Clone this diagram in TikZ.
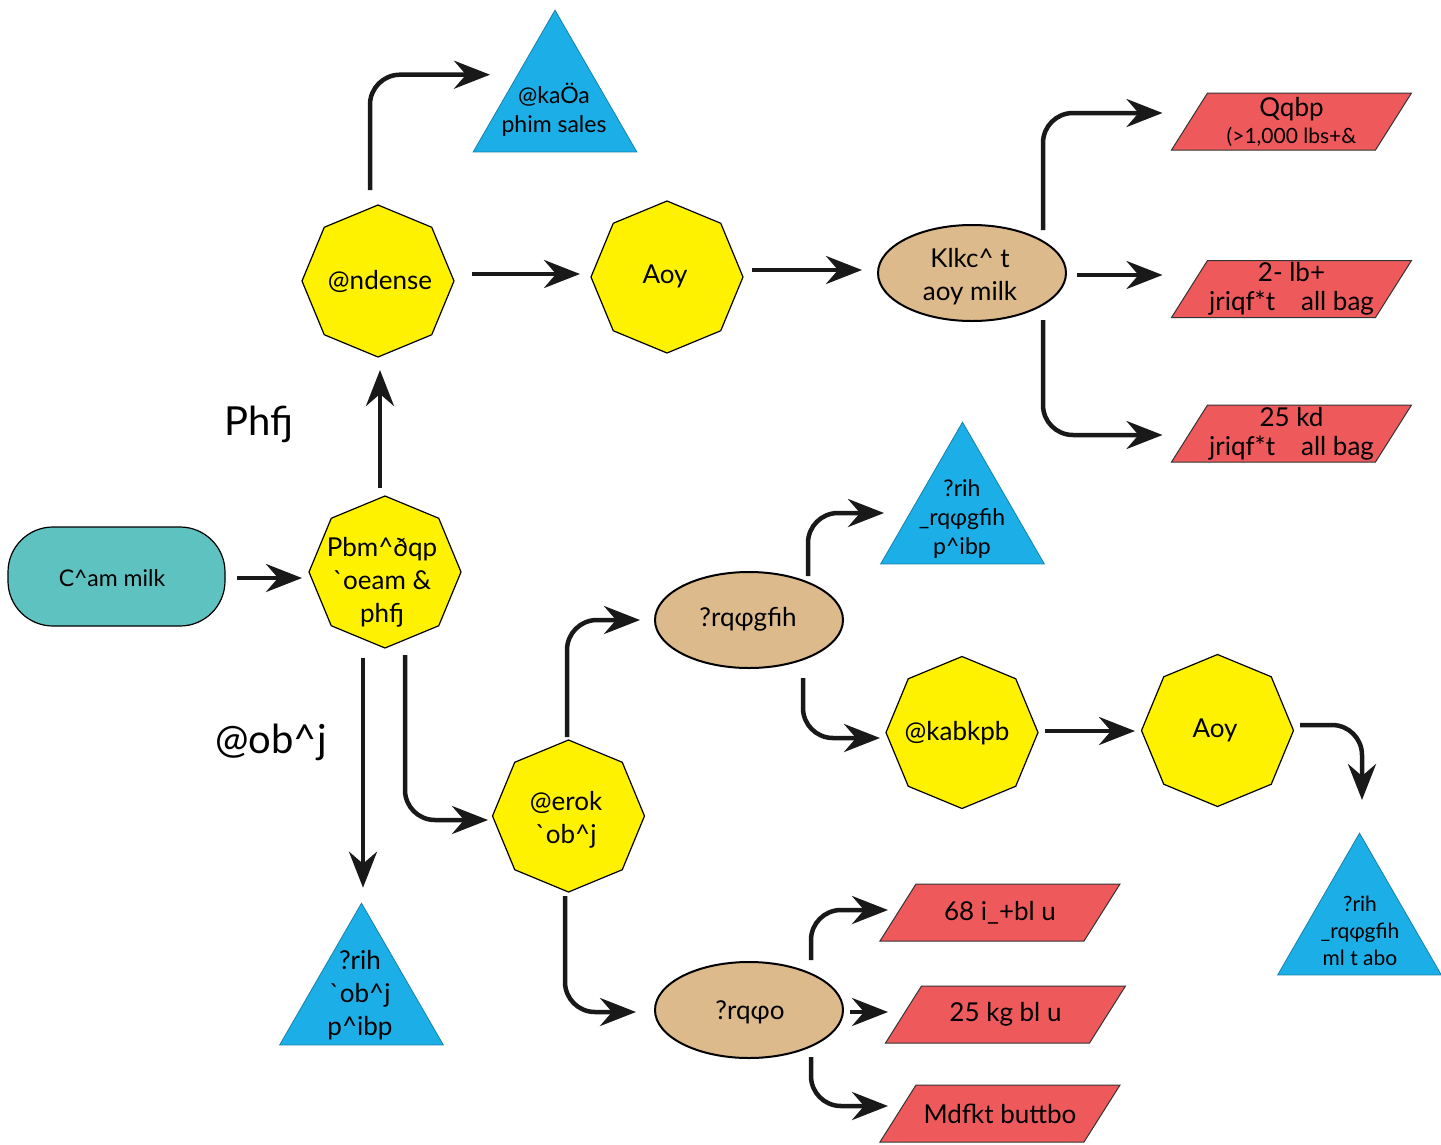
\documentclass[tikz,border=0pt]{standalone}
\usepackage{fontspec}
\setmainfont{Lato}
\usetikzlibrary{shapes.geometric,arrows.meta,calc}
\definecolor{octyellow}{HTML}{FFF200}
\definecolor{triblue}{HTML}{1CAEE6}
\definecolor{ovaltan}{HTML}{DCBA8C}
\definecolor{parared}{HTML}{EE5A5C}
\definecolor{tealbox}{HTML}{5EC2C0}
\newcommand\fsA{\fontsize{26}{33}\selectfont}
\newcommand\fsB{\fontsize{23}{29}\selectfont}
\newcommand\fsC{\fontsize{21}{27}\selectfont}
\newcommand\fsBig{\fontsize{40}{46}\selectfont}
\newcommand\mypara[4]{%
  \draw[parashape] (#2,#3) ++(-84,-28.5) -- ++(204,0) -- ++(-36,57) -- ++(-204,0) -- cycle;
  \node[txt] (#1) at (#2,#3) {#4};}
\tikzset{
  oct/.style={regular polygon, regular polygon sides=8, shape border rotate=22.5,
    minimum size=152pt, inner sep=0pt, draw=black, line width=1.2pt, fill=octyellow},
  tri/.style={regular polygon, regular polygon sides=3, minimum size=189pt,
    inner sep=0pt, draw=triblue!75!black, line width=0.8pt, fill=triblue},
  oval/.style={ellipse, draw=black, line width=2pt, fill=ovaltan,
    minimum width=188pt, minimum height=96pt, inner sep=0pt},
  roundbox/.style={draw=black, line width=1.2pt, fill=tealbox, rounded corners=45pt,
    minimum width=217pt, minimum height=99pt, inner sep=0pt},
  parashape/.style={draw=black!80, line width=1pt, fill=parared},
  txt/.style={align=center, inner sep=0pt, font=\fsA, text=black},
  arr/.style={-{Stealth[length=36pt,width=28pt,inset=12pt]}, line width=4.5pt,
    rounded corners=30pt, color=black!90},
}
\begin{document}
\begin{tikzpicture}[x=1pt,y=-1pt]
\useasboundingbox (0,0) rectangle (1441,1144);

% top triangle
\node[tri] (tri1) at (555,104.7) {};
\node[txt, font=\fsB] (tri1-t) at (554,110) {@kaÖa\\phim sales};

% octagons
\node[oct] (cond) at (378,281) {};
\node[txt] (cond-t) at (380,281) {@ndense};
\node[oct] (aoy1) at (667,277) {};
\node[txt] (aoy1-t) at (665,276) {Aoy};
\node[oct] (pbm) at (385,572) {};
\node[txt] (pbm-t) at (382,582) {Pbm\textasciicircum ðqp\\\textasciigrave oeam \&\\phfj};
\node[oct] (erok) at (568.5,816) {};
\node[txt] (erok-t) at (566,820) {@erok\\\textasciigrave ob\textasciicircum j};
\node[oct] (kab) at (962,732.5) {};
\node[txt] (kab-t) at (957,733) {@kabkpb};
\node[oct] (aoy2) at (1217.5,730.5) {};
\node[txt] (aoy2-t) at (1215,730) {Aoy};

% ovals
\node[oval] (klkc) at (972,273) {};
\node[txt] (klkc-t) at (970,277) {Klkc\textasciicircum\ t\\aoy milk};
\node[oval] (rq1) at (749,620) {};
\node[txt] (rq1-t) at (748,619) {?rqφgfih};
\node[oval] (rq2) at (749,1010) {};
\node[txt] (rq2-t) at (750,1012) {?rqφo};

% raw box
\node[roundbox] (cam) at (116.5,576.5) {};
\node[txt, font=\fsB] (cam-t) at (112,578) {C\textasciicircum am milk};

% triangles
\node[tri] (tri2) at (962.5,516.7) {};
\node[txt, font=\fsB] (tri2-t) at (962,519) {?rih\\\_rqφgfih\\p\textasciicircum ibp};
\node[tri] (tri3) at (1359.5,927.7) {};
\node[txt, font=\fsC] (tri3-t) at (1360,931) {?rih\\\_rqφgfih\\ml t abo};
\node[tri] (tri4) at (361.5,997.7) {};
\node[txt] (tri4-t) at (360,995) {?rih\\\textasciigrave ob\textasciicircum j\\p\textasciicircum ibp};

% parallelograms
\mypara{p1}{1291.5}{121.5}{Qqbp\\[-6pt]{\fsC (>1,000 lbs+\&}}
\mypara{p2}{1291.5}{289}{2- lb+\\[-4pt]jriqf*t\quad all bag}
\mypara{p3}{1291.5}{433.5}{25 kd\\[-4pt]jriqf*t\quad all bag}
\mypara{p4}{1000}{912.5}{68 i\_+bl u}
\mypara{p5}{1005.5}{1014.5}{25 kg bl u}
\mypara{p6}{1000}{1113.5}{Mdfkt buttbo}

% free labels
\node[txt, font=\fsBig] (lab1) at (259,424) {Phfj};
\node[txt, font=\fsBig] (lab2) at (271,742) {@ob\textasciicircum j};

% connectors
\draw[arr] ($(cond)+(-8,-91)$) |- ($(tri1)+(-65,-30)$);
\draw[arr] ($(cond)+(94,-7)$) -- ($(aoy1)+(-87,-3)$);
\draw[arr] ($(aoy1)+(85,-7)$) -- ($(klkc)+(-110,-3)$);
\draw[arr] ($(klkc)+(71,-43)$) |- ($(p1)+(-129,-8.5)$);
\draw[arr] ($(klkc)+(105,2)$) -- ($(p2)+(-129,-14)$);
\draw[arr] ($(klkc)+(71,47)$) |- ($(p3)+(-129,1.5)$);
\draw[arr] ($(pbm)+(-5,-84)$) -- ($(cond)+(2,89)$);
\draw[arr] ($(cam)+(120.5,1.5)$) -- ($(pbm)+(-83,6)$);
\draw[arr] ($(pbm)+(-22,86)$) -- ($(tri4)+(1.5,-110)$);
\draw[arr] ($(pbm)+(20,83)$) |- ($(erok)+(-80.5,4)$);
\draw[arr] ($(erok)+(-1.5,-79)$) |- ($(rq1)+(-109,0)$);
\draw[arr] ($(erok)+(-3.5,80)$) |- ($(rq2)+(-113,2)$);
\draw[arr] ($(rq1)+(59,-44)$) |- ($(tri2)+(-78.5,-3.7)$);
\draw[arr] ($(rq1)+(54,58)$) |- ($(kab)+(-82,5.5)$);
\draw[arr] ($(kab)+(83,-1.5)$) -- ($(aoy2)+(-82.5,0.5)$);
\draw[arr] ($(aoy2)+(82.5,-5.5)$) -| ($(tri3)+(2.5,-127.7)$);
\draw[arr] ($(rq2)+(62,-50)$) |- ($(p4)+(-112,-2.5)$);
\draw[arr] ($(rq2)+(101,2)$) -- ($(p5)+(-117.5,-2.5)$);
\draw[arr] ($(rq2)+(62,47)$) |- ($(p6)+(-112,-7.5)$);
\end{tikzpicture}
\end{document}
